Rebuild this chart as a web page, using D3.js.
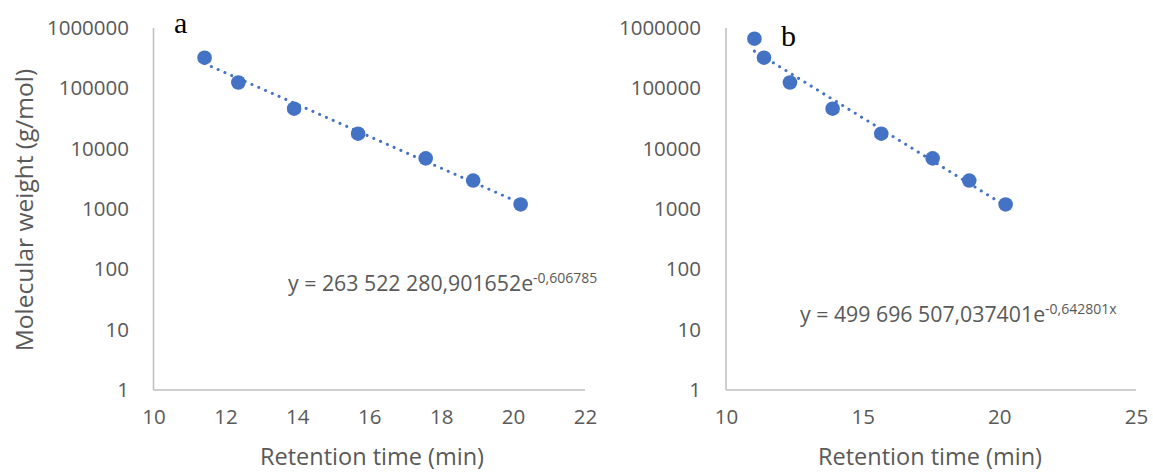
<!DOCTYPE html>
<html><head><meta charset="utf-8">
<script src="https://cdn.jsdelivr.net/npm/d3@7/dist/d3.min.js"></script>
<style>body{margin:0;background:#fff}svg{display:block}</style>
</head><body>
<svg id="c" width="1153" height="473"></svg>
<script>
// Data
const timesA = [11.42, 12.36, 13.91, 15.69, 17.57, 18.89, 20.21];
const mwA    = [322000, 125000, 46000, 17700, 6900, 2960, 1190];
const timesB = [11.04, 11.39, 12.34, 13.90, 15.68, 17.56, 18.90, 20.23];
const mwB    = [665000, 322000, 125000, 46000, 17700, 6900, 2960, 1190];
const fitA = {A: 263522280.901652, k: 0.606785, text: "y = 263 522 280,901652e", sup: "-0,606785"};
const fitB = {A: 499696507.037401, k: 0.642801, text: "y = 499 696 507,037401e", sup: "-0,642801x"};
const yTicks = [1, 10, 100, 1000, 10000, 100000, 1000000];
const xTicksA = [10, 12, 14, 16, 18, 20, 22];
const xTicksB = [10, 15, 20, 25];

const svg = d3.select("#c");
const blue = "#4472C4", axisC = "#BFBFBF", txt = "#595959";
const font = "'Open Sans', sans-serif";

function panel(cfg) {
  const x = d3.scaleLinear().domain(cfg.xDomain).range([cfg.left, cfg.right]);
  const y = d3.scaleLog().domain([1, 1000000]).range([cfg.bottom, cfg.top]);
  const g = svg.append("g");
  g.append("line").attr("x1", cfg.left).attr("x2", cfg.left).attr("y1", cfg.top).attr("y2", cfg.bottom)
    .attr("stroke", axisC).attr("stroke-width", 1.5);
  g.append("line").attr("x1", cfg.left).attr("x2", cfg.right).attr("y1", cfg.bottom).attr("y2", cfg.bottom)
    .attr("stroke", axisC).attr("stroke-width", 1.5);
  const ya = d3.axisLeft(y).tickValues(yTicks).tickFormat(d3.format("d")).tickSize(0).tickPadding(0);
  const yg = g.append("g").attr("transform", `translate(${cfg.yLabelRight},0)`).call(ya);
  yg.select(".domain").remove();
  yg.selectAll("text").attr("font-family", font).attr("font-size", 20.5).attr("fill", txt);
  const xa = d3.axisBottom(x).tickValues(cfg.xTicks).tickFormat(d3.format("d")).tickSize(0).tickPadding(0);
  const xg = g.append("g").attr("transform", `translate(0,${cfg.bottom + 19})`).call(xa);
  xg.select(".domain").remove();
  xg.selectAll("text").attr("font-family", font).attr("font-size", 20.5).attr("fill", txt);
  g.append("text").attr("x", cfg.titleX).attr("y", 465).attr("text-anchor", "middle")
    .attr("font-family", font).attr("font-size", 23.5).attr("fill", txt).text("Retention time (min)");
  g.selectAll("circle").data(cfg.times.map((t, i) => [t, cfg.mw[i]])).join("circle")
    .attr("cx", d => x(d[0])).attr("cy", d => y(d[1])).attr("r", 7.3).attr("fill", blue);
  const x0 = d3.min(cfg.times), x1 = d3.max(cfg.times);
  const pts = d3.range(0, 41).map(i => { const t = x0 + (x1 - x0) * i / 40; return [t, cfg.fit.A * Math.exp(-cfg.fit.k * t)]; });
  g.append("path").attr("d", d3.line().x(d => x(d[0])).y(d => y(d[1]))(pts))
    .attr("fill", "none").attr("stroke", blue).attr("stroke-width", 3)
    .attr("stroke-linecap", "round").attr("stroke-dasharray", "0.1 7.3");
  const eq = g.append("text").attr("x", cfg.eqX).attr("y", cfg.eqY).attr("font-family", font)
    .attr("font-size", 21.3).attr("fill", txt);
  eq.append("tspan").text(cfg.fit.text);
  eq.append("tspan").attr("dy", -8.5).attr("font-size", 14).text(cfg.fit.sup);
  g.append("text").attr("x", cfg.letterX).attr("y", cfg.letterY).attr("font-family", "'Liberation Serif', serif")
    .attr("font-size", 30).attr("fill", "#000").text(cfg.letter);
}

panel({xDomain: [10, 22], left: 153.5, right: 585, top: 28, bottom: 390, yLabelRight: 129, titleX: 372,
  xTicks: xTicksA, times: timesA, mw: mwA, fit: fitA, eqX: 288, eqY: 291, letter: "a", letterX: 174, letterY: 33});
panel({xDomain: [10, 25], left: 726, right: 1136, top: 28, bottom: 390, yLabelRight: 701, titleX: 930,
  xTicks: xTicksB, times: timesB, mw: mwB, fit: fitB, eqX: 800, eqY: 322, letter: "b", letterX: 781, letterY: 46});

svg.append("text").attr("transform", "translate(33,210) rotate(-90)").attr("text-anchor", "middle")
  .attr("font-family", font).attr("font-size", 24.5).attr("fill", txt).text("Molecular weight (g/mol)");
</script>
</body></html>
